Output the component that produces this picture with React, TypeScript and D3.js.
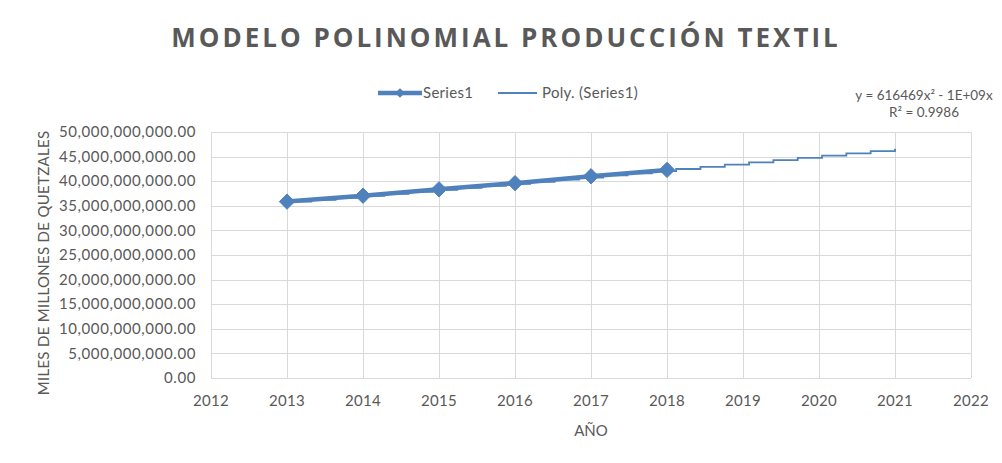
import React, { useEffect, useRef } from 'react';
import * as d3 from 'd3';

// valores (miles de millones de quetzales)
const years = [2013, 2014, 2015, 2016, 2017, 2018];
const production = [35.85e9, 37.05e9, 38.35e9, 39.6e9, 41.0e9, 42.3e9];
const xTicks = [2012, 2013, 2014, 2015, 2016, 2017, 2018, 2019, 2020, 2021, 2022];
const yTicks = [0, 5e9, 10e9, 15e9, 20e9, 25e9, 30e9, 35e9, 40e9, 45e9, 50e9];
const trendEnd = 2021;
const equationLines = ['y = 616469x² - 1E+09x', 'R² = 0.9986'];

// ajuste polinomial de grado 2 (minimos cuadrados), como la linea de tendencia de Excel
function polyFit(xs: number[], ys: number[]) {
  const x0 = d3.mean(xs) as number;
  const u = xs.map((x) => x - x0);
  const n = u.length;
  const s = (p: number) => d3.sum(u, (v) => v ** p);
  const t = (p: number) => d3.sum(u, (v, i) => v ** p * ys[i]);
  const A = [
    [n, s(1), s(2)],
    [s(1), s(2), s(3)],
    [s(2), s(3), s(4)],
  ];
  const B = [t(0), t(1), t(2)];
  // gauss
  for (let i = 0; i < 3; i++) {
    for (let k = i + 1; k < 3; k++) {
      const f = A[k][i] / A[i][i];
      for (let j = i; j < 3; j++) A[k][j] -= f * A[i][j];
      B[k] -= f * B[i];
    }
  }
  const c = [0, 0, 0];
  for (let i = 2; i >= 0; i--) {
    let sum = B[i];
    for (let j = i + 1; j < 3; j++) sum -= A[i][j] * c[j];
    c[i] = sum / A[i][i];
  }
  return (x: number) => c[0] + c[1] * (x - x0) + c[2] * (x - x0) ** 2;
}

function Chart() {
  const svgRef = useRef<SVGSVGElement>(null);

  useEffect(() => {
    const W = 1002;
    const H = 463;
    const margin = { top: 132, right: 31, bottom: 85, left: 211 };
    const width = W - margin.left - margin.right;
    const height = H - margin.top - margin.bottom;
    const font = 'Lato, "Open Sans", sans-serif';
    const grey = '#595959';
    const blue = '#4f81bd';

    const root = d3.select(svgRef.current).attr('width', W).attr('height', H);
    root.selectAll('*').remove();

    root
      .append('rect')
      .attr('x', 7.5)
      .attr('y', 7.5)
      .attr('width', W)
      .attr('height', H)
      .attr('fill', '#fff')
      .attr('stroke', '#d0d0d0');

    root
      .append('text')
      .attr('x', 506)
      .attr('y', 47)
      .attr('text-anchor', 'middle')
      .attr('font-family', '"Open Sans", sans-serif')
      .attr('font-weight', 700)
      .attr('font-size', 26)
      .attr('letter-spacing', 3)
      .attr('fill', grey)
      .text('MODELO POLINOMIAL PRODUCCIÓN TEXTIL');

    const svg = root.append('g').attr('transform', `translate(${margin.left},${margin.top})`);

    const x = d3.scaleLinear().domain([2012, 2022]).range([0, width]);
    const y = d3.scaleLinear().domain([0, 50e9]).range([height, 0]);

    // rejilla
    svg
      .append('g')
      .selectAll('line.h')
      .data(yTicks)
      .enter()
      .append('line')
      .attr('x1', 0)
      .attr('x2', width)
      .attr('y1', (d) => Math.round(y(d)) + 0.5)
      .attr('y2', (d) => Math.round(y(d)) + 0.5)
      .attr('stroke', '#d9d9d9')
      .attr('stroke-width', 1);
    svg
      .append('g')
      .selectAll('line.v')
      .data(xTicks)
      .enter()
      .append('line')
      .attr('y1', 0)
      .attr('y2', height)
      .attr('x1', (d) => Math.round(x(d)) + 0.5)
      .attr('x2', (d) => Math.round(x(d)) + 0.5)
      .attr('stroke', '#d9d9d9')
      .attr('stroke-width', 1);

    const fmt = d3.format(',.2f');
    svg
      .append('g')
      .selectAll('text')
      .data(yTicks)
      .enter()
      .append('text')
      .attr('x', -15)
      .attr('y', (d) => y(d))
      .attr('dy', '0.35em')
      .attr('text-anchor', 'end')
      .attr('font-family', font)
      .attr('font-size', 15)
      .attr('letter-spacing', 0.6)
      .attr('fill', grey)
      .text((d) => fmt(d));

    svg
      .append('g')
      .selectAll('text')
      .data(xTicks)
      .enter()
      .append('text')
      .attr('x', (d) => x(d))
      .attr('y', height + 28)
      .attr('text-anchor', 'middle')
      .attr('font-family', font)
      .attr('font-size', 15)
      .attr('letter-spacing', 0.3)
      .attr('fill', grey)
      .text((d) => d);

    svg
      .append('text')
      .attr('x', width / 2)
      .attr('y', height + 58)
      .attr('text-anchor', 'middle')
      .attr('font-family', font)
      .attr('font-size', 15)
      .attr('fill', grey)
      .text('AÑO');

    root
      .append('text')
      .attr('transform', `translate(49,263) rotate(-90)`)
      .attr('text-anchor', 'middle')
      .attr('font-family', font)
      .attr('font-size', 15)
      .attr('letter-spacing', 0.3)
      .attr('fill', grey)
      .text('MILES DE MILLONES DE QUETZALES');

    // linea de tendencia (se dibuja escalonada como en Excel)
    const fit = polyFit(years, production);
    const steps = d3.range(years[0], trendEnd + 0.001, 0.32);
    const trend = steps.map((v) => [v, fit(v)] as [number, number]);
    trend.push([trendEnd, fit(trendEnd)]);
    svg
      .append('path')
      .datum(trend)
      .attr('fill', 'none')
      .attr('stroke', blue)
      .attr('stroke-width', 1.8)
      .attr(
        'd',
        d3
          .line<[number, number]>()
          .x((d) => x(d[0]))
          .y((d) => y(d[1]))
          .curve(d3.curveStepAfter)
      );

    // serie
    const pts = years.map((yr, i) => [yr, production[i]] as [number, number]);
    svg
      .append('path')
      .datum(pts)
      .attr('fill', 'none')
      .attr('stroke', blue)
      .attr('stroke-width', 4.5)
      .attr('stroke-linejoin', 'round')
      .attr(
        'd',
        d3
          .line<[number, number]>()
          .x((d) => x(d[0]))
          .y((d) => y(d[1]))
      );
    const diamond = d3.symbol().type(d3.symbolDiamond2).size(150);
    svg
      .append('g')
      .selectAll('path')
      .data(pts)
      .enter()
      .append('path')
      .attr('transform', (d) => `translate(${x(d[0])},${y(d[1])})`)
      .attr('d', diamond() as string)
      .attr('fill', blue)
      .attr('stroke', blue);

    // leyenda
    const lg = root.append('g').attr('transform', 'translate(0,93)');
    lg.append('line')
      .attr('x1', 378)
      .attr('x2', 422)
      .attr('stroke', blue)
      .attr('stroke-width', 4.5);
    lg.append('path')
      .attr('transform', 'translate(400,0)')
      .attr('d', d3.symbol().type(d3.symbolDiamond2).size(60)() as string)
      .attr('fill', blue);
    lg.append('text')
      .attr('x', 423)
      .attr('dy', '0.35em')
      .attr('font-family', font)
      .attr('font-size', 15)
      .attr('letter-spacing', 0.3)
      .attr('fill', grey)
      .text('Series1');
    lg.append('line')
      .attr('x1', 498)
      .attr('x2', 537)
      .attr('stroke', blue)
      .attr('stroke-width', 1.8);
    lg.append('text')
      .attr('x', 542)
      .attr('dy', '0.35em')
      .attr('font-family', font)
      .attr('font-size', 15)
      .attr('letter-spacing', 0.3)
      .attr('fill', grey)
      .text('Poly. (Series1)');

    // ecuacion
    root
      .append('g')
      .selectAll('text')
      .data(equationLines)
      .enter()
      .append('text')
      .attr('x', 924)
      .attr('y', (_, i) => 100 + i * 17)
      .attr('text-anchor', 'middle')
      .attr('font-family', font)
      .attr('font-size', 13.5)
      .attr('fill', grey)
      .text((d) => d);
  }, []);

  return <svg ref={svgRef} style={{ display: 'block' }}></svg>;
}

export default function App() {
  return (
    <div style={{ margin: -8 }}>
      <Chart />
    </div>
  );
}
